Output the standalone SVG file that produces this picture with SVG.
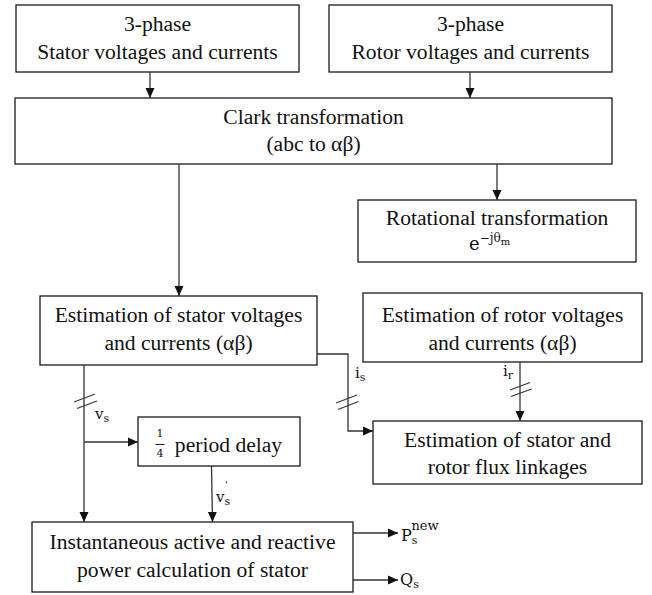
<svg xmlns="http://www.w3.org/2000/svg" width="652" height="595" viewBox="0 0 652 595">
  <style>
    .box { fill: #ffffff; stroke: #1a1a1a; stroke-width: 1.3; }
    .lbl { font-size: 21.6px; fill: #111111; text-anchor: middle; }
    .wire { fill: none; stroke: #333333; stroke-width: 1.3; }
    .tick { stroke: #333333; stroke-width: 1.2; }
    .math { fill: #111111; }
  </style>
  <defs>
    <marker id="arrow" markerUnits="userSpaceOnUse" markerWidth="11" markerHeight="10" refX="10" refY="5" orient="auto">
      <path d="M0,0.5 L10,5 L0,9.5 z" fill="#111111"/>
    </marker>
  </defs>
  <rect width="652" height="595" fill="#ffffff"/>

  <g font-family="Liberation Serif, serif">
  <g id="stator-3phase">
    <rect class="box" x="16" y="5" width="283" height="67"/>
    <text class="lbl" x="157.5" y="31">3-phase</text>
    <text class="lbl" x="157.5" y="59">Stator voltages and currents</text>
  </g>

  <g id="rotor-3phase">
    <rect class="box" x="329" y="5" width="283" height="67"/>
    <text class="lbl" x="470.5" y="31">3-phase</text>
    <text class="lbl" x="470.5" y="59">Rotor voltages and currents</text>
  </g>

  <g id="clark">
    <rect class="box" x="15" y="98" width="597" height="66"/>
    <text class="lbl" x="313.5" y="124">Clark transformation</text>
    <text class="lbl" x="313.5" y="151">(abc to αβ)</text>
  </g>

  <g id="rotational">
    <rect class="box" x="358" y="200" width="278" height="62"/>
    <text class="lbl" x="497" y="225">Rotational transformation</text>
    <text class="math" x="469" y="250" font-size="18" font-family="DejaVu Serif, serif">e<tspan font-size="12" dy="-8">−jθ</tspan><tspan font-size="10" dy="3">m</tspan></text>
  </g>

  <g id="stator-ab">
    <rect class="box" x="40" y="296" width="277" height="69"/>
    <text class="lbl" x="178.5" y="322">Estimation of stator voltages</text>
    <text class="lbl" x="178.5" y="350">and currents (αβ)</text>
  </g>

  <g id="rotor-ab">
    <rect class="box" x="363" y="293" width="279" height="69"/>
    <text class="lbl" x="502.5" y="322">Estimation of rotor voltages</text>
    <text class="lbl" x="502.5" y="350">and currents (αβ)</text>
  </g>

  <g id="flux">
    <rect class="box" x="373" y="421" width="269" height="63"/>
    <text class="lbl" x="507.5" y="447">Estimation of stator and</text>
    <text class="lbl" x="507.5" y="474">rotor flux linkages</text>
  </g>

  <g id="delay">
    <rect class="box" x="138" y="417" width="162" height="49"/>
    <text class="math" x="160" y="437" font-size="11" text-anchor="middle" font-family="DejaVu Serif, serif">1</text>
    <line x1="155.5" y1="444.5" x2="164.5" y2="444.5" stroke="#111111" stroke-width="1"/>
    <text class="math" x="160" y="457" font-size="11" text-anchor="middle" font-family="DejaVu Serif, serif">4</text>
    <text class="lbl" x="228.5" y="452">period delay</text>
  </g>

  <g id="power">
    <rect class="box" x="32" y="522" width="321" height="70"/>
    <text class="lbl" x="192.5" y="549">Instantaneous active and reactive</text>
    <text class="lbl" x="192.5" y="577">power calculation of stator</text>
  </g>
  </g>

  <g id="connectors" font-family="DejaVu Serif, serif">
    <line class="wire" x1="150" y1="72" x2="150" y2="98" marker-end="url(#arrow)"/>
    <line class="wire" x1="470" y1="72" x2="470" y2="98" marker-end="url(#arrow)"/>
    <line class="wire" x1="179" y1="164" x2="179" y2="296" marker-end="url(#arrow)"/>
    <line class="wire" x1="497" y1="164" x2="497" y2="200" marker-end="url(#arrow)"/>

    <!-- v_s -->
    <line class="wire" x1="84" y1="365" x2="84" y2="522" marker-end="url(#arrow)"/>
    <line class="wire" x1="84" y1="442" x2="138" y2="442" marker-end="url(#arrow)"/>
    <line class="tick" x1="74" y1="402" x2="95" y2="394"/>
    <line class="tick" x1="77" y1="408.5" x2="97" y2="401"/>
    <text class="math" x="95" y="419" font-size="15">v<tspan font-size="11" dy="3">s</tspan></text>

    <!-- v_s' -->
    <line class="wire" x1="211.5" y1="466" x2="212.5" y2="522" marker-end="url(#arrow)"/>
    <text class="math" x="216" y="502" font-size="15">v<tspan font-size="11" dy="3">s</tspan></text>
    <text class="math" x="225" y="488" font-size="10">'</text>

    <!-- i_s -->
    <polyline class="wire" points="317,354 348,354 348,431 373,431" marker-end="url(#arrow)"/>
    <line class="tick" x1="336" y1="403" x2="357" y2="395"/>
    <line class="tick" x1="338" y1="409.5" x2="358.5" y2="401.5"/>
    <text class="math" x="355" y="378" font-size="15">i<tspan font-size="11" dy="3">s</tspan></text>

    <!-- i_r -->
    <line class="wire" x1="520" y1="362" x2="520" y2="421" marker-end="url(#arrow)"/>
    <line class="tick" x1="510" y1="390" x2="530" y2="382.5"/>
    <line class="tick" x1="511" y1="396.5" x2="531.5" y2="389"/>
    <text class="math" x="503" y="376" font-size="15">i<tspan font-size="11" dy="3">r</tspan></text>

    <!-- outputs -->
    <line class="wire" x1="353" y1="533" x2="398" y2="533" marker-end="url(#arrow)"/>
    <line class="wire" x1="353" y1="580" x2="398" y2="580" marker-end="url(#arrow)"/>
    <text class="math" x="401" y="541" font-size="16">P<tspan font-size="11" dy="3">s</tspan><tspan font-size="13" dx="-6" dy="-14">new</tspan></text>
    <text class="math" x="400" y="585" font-size="16">Q<tspan font-size="11" dy="3">s</tspan></text>
  </g>
</svg>
